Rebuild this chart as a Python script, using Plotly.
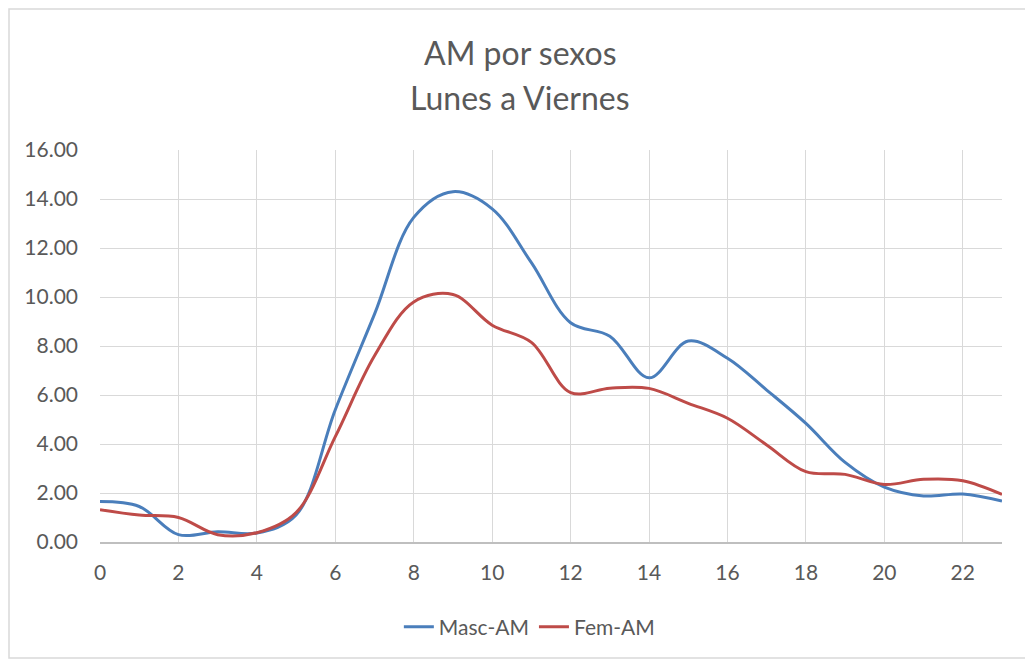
import plotly.graph_objects as go

hours = list(range(24))

masc_am = [1.65, 1.45, 0.30, 0.42, 0.37, 1.10, 5.40, 9.30, 13.25, 14.30, 13.60, 11.40,
           8.95, 8.40, 6.70, 8.20, 7.50, 6.20, 4.84, 3.25, 2.24, 1.88, 1.96, 1.67]
fem_am = [1.32, 1.10, 1.00, 0.30, 0.38, 1.20, 4.30, 7.60, 9.80, 10.10, 8.85, 8.15,
          6.10, 6.28, 6.27, 5.66, 5.05, 3.96, 2.87, 2.76, 2.35, 2.56, 2.50, 1.94]

title_lines = ['AM por sexos', 'Lunes a Viernes']

series = [
    ('Masc-AM', masc_am, '#4a7ebb'),
    ('Fem-AM', fem_am, '#be4b48'),
]

FONT = 'Lato'
GREY_TEXT = '#595959'

# plot area inside the figure (page body adds an 8px offset)
L, T, PW, PH = 92, 142, 902, 392
B_EDGE = T + PH


def px_x(fx):
    return (fx - L) / PW


def px_y(fy):
    return (B_EDGE - fy) / PH


fig = go.Figure()
for name, values, color in series:
    fig.add_trace(go.Scatter(
        name=name,
        x=hours,
        y=values,
        mode='lines',
        line=dict(color=color, width=3, shape='spline', smoothing=1.0),
    ))

annotations = []
for line, fy in zip(title_lines, [44, 89]):
    annotations.append(dict(
        text=line, xref='paper', yref='paper',
        x=px_x(512), y=px_y(fy),
        xanchor='center', yanchor='middle', showarrow=False,
        font=dict(family=FONT, size=32, color=GREY_TEXT),
    ))

fig.update_layout(
    width=1033,
    height=661,
    margin=dict(l=L, r=1033 - L - PW, t=T, b=661 - B_EDGE),
    paper_bgcolor='white',
    plot_bgcolor='white',
    font=dict(family=FONT, size=21, color=GREY_TEXT),
    showlegend=True,
    legend=dict(
        orientation='h',
        x=0.476, xanchor='center',
        y=-0.217, yanchor='middle',
        font=dict(family=FONT, size=21, color=GREY_TEXT),
    ),
    annotations=annotations,
    xaxis=dict(
        range=[0, 23],
        tickmode='array',
        tickvals=list(range(0, 23, 2)),
        showgrid=True,
        gridcolor='#d9d9d9',
        gridwidth=1,
        showline=True,
        linecolor='#bfbfbf',
        linewidth=1.5,
        zeroline=False,
        ticks='',
        ticklabelstandoff=11,
    ),
    yaxis=dict(
        range=[0, 16],
        dtick=2,
        tickformat='.2f',
        showgrid=True,
        gridcolor='#d9d9d9',
        gridwidth=1,
        showline=False,
        zeroline=False,
        ticks='',
        ticklabelstandoff=21,
    ),
    shapes=[dict(
        type='rect', xref='paper', yref='paper',
        x0=px_x(1), x1=px_x(1022),
        y0=px_y(650), y1=px_y(1),
        line=dict(color='#d9d9d9', width=1.5),
        layer='below',
    )],
)

fig.write_html('out.html')
